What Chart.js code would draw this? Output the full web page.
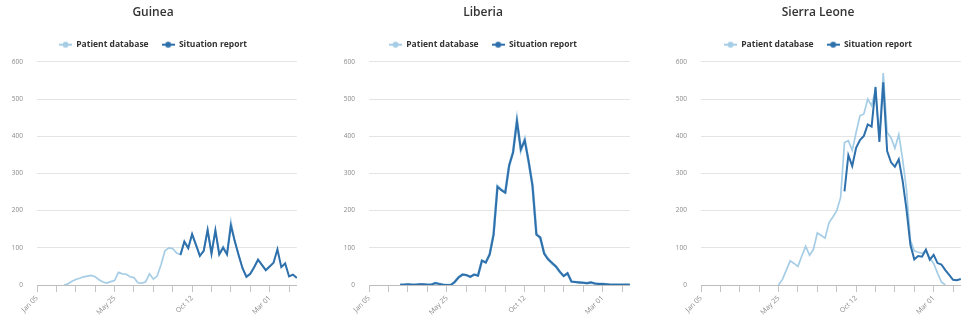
<!DOCTYPE html>
<html>
<head>
<meta charset="utf-8">
<title>Weekly confirmed and probable cases</title>
<script src="https://cdn.jsdelivr.net/npm/chart.js@4.4.1/dist/chart.umd.min.js"></script>
<style>
  html, body { margin: 0; padding: 0; background: #fff; }
  body { width: 965px; height: 324px; position: relative; overflow: hidden; }
  .panel { position: absolute; top: 0; height: 324px; }
  .panel canvas { display: block; }
</style>
</head>
<body>
<div class="panel" id="panel-guinea"><canvas id="chart-guinea"></canvas></div>
<div class="panel" id="panel-liberia"><canvas id="chart-liberia"></canvas></div>
<div class="panel" id="panel-sierra"><canvas id="chart-sierra"></canvas></div>
<script>
// Epidemiological weeks (week starting), 2014-2015
const weeks = [
  'Jan 05','Jan 12','Jan 19','Jan 26','Feb 02','Feb 09','Feb 16','Feb 23','Mar 02','Mar 09',
  'Mar 16','Mar 23','Mar 30','Apr 06','Apr 13','Apr 20','Apr 27','May 04','May 11','May 18',
  'May 25','Jun 01','Jun 08','Jun 15','Jun 22','Jun 29','Jul 06','Jul 13','Jul 20','Jul 27',
  'Aug 03','Aug 10','Aug 17','Aug 24','Aug 31','Sep 07','Sep 14','Sep 21','Sep 28','Oct 05',
  'Oct 12','Oct 19','Oct 26','Nov 02','Nov 09','Nov 16','Nov 23','Nov 30','Dec 07','Dec 14',
  'Dec 21','Dec 28','Jan 04','Jan 11','Jan 18','Jan 25','Feb 01','Feb 08','Feb 15','Feb 22',
  'Mar 01','Mar 08','Mar 15','Mar 22','Mar 29','Apr 05','Apr 12','Apr 19'
];
const labelEvery = 20;   // a date label every 20 weeks
const tickEvery = 5;     // a tick mark every 5 weeks
const yTicks = [0, 100, 200, 300, 400, 500, 600];
const seriesNames = ['Patient database', 'Situation report'];

// Guinea
const guineaPatient = [
  null,null,null,null,null,null,null,0,3,10,
  15,18,22,24,26,22,14,8,5,9,
  12,34,30,29,22,20,6,5,8,30,
  16,24,55,92,100,98,86,82,115,100,
  135,108,80,92,150,86,146,84,104,84,
  172,118,82,46,23,30,48,68,54,40,
  50,null,null,null,null,null,null,null
];
const guineaSituation = [
  null,null,null,null,null,null,null,null,null,null,
  null,null,null,null,null,null,null,null,null,null,
  null,null,null,null,null,null,null,null,null,null,
  null,null,null,null,null,null,null,81,117,99,
  137,108,78,92,148,84,147,82,100,82,
  160,118,80,45,22,30,48,68,54,40,
  50,60,96,48,58,23,28,19
];

// Liberia
const liberiaPatient = [
  null,null,null,null,null,null,null,null,1,1,
  2,1,1,2,2,1,1,5,3,1,
  0,0,8,21,28,26,22,28,26,64,
  61,83,138,266,256,250,320,358,444,362,
  392,330,270,138,126,86,70,58,50,35,
  25,30,10,8,7,6,5,6,4,3,
  3,2,1,1,1,1,1,1
];
const liberiaSituation = [
  null,null,null,null,null,null,null,null,1,1,
  2,1,1,2,2,1,1,5,3,1,
  0,0,8,20,28,27,22,28,25,66,
  60,82,135,264,255,248,322,356,441,365,
  389,333,266,135,128,84,69,60,50,36,
  24,32,9,8,7,6,5,7,4,3,
  3,2,1,1,1,1,1,1
];

// Sierra Leone
const sierraPatient = [
  null,null,null,null,null,null,null,null,null,null,
  null,null,null,null,null,null,null,null,null,null,
  0,15,40,65,58,50,78,104,80,96,
  140,133,126,167,183,200,235,383,388,362,
  410,455,460,500,482,525,395,570,410,396,
  368,405,338,255,120,92,88,85,92,72,
  58,32,8,0,null,null,null,null
];
const sierraSituation = [
  null,null,null,null,null,null,null,null,null,null,
  null,null,null,null,null,null,null,null,null,null,
  null,null,null,null,null,null,null,null,null,null,
  null,null,null,null,null,null,null,252,349,320,
  369,390,401,432,426,532,385,545,360,330,
  318,338,280,203,108,69,78,76,95,68,
  81,59,55,40,27,14,13,16
];

const COLOR_PATIENT = '#a6cde6';
const COLOR_SITREP = '#2e70ab';
const FONT = "'Open Sans', 'DejaVu Sans', sans-serif";

// Legend symbol: short line with a round marker
function legendMarker(color) {
  const c = document.createElement('canvas');
  c.width = 13; c.height = 8;
  const g = c.getContext('2d');
  g.strokeStyle = color; g.lineWidth = 2;
  g.beginPath(); g.moveTo(0, 4); g.lineTo(13, 4); g.stroke();
  g.fillStyle = color;
  g.beginPath(); g.arc(6.5, 4, 3, 0, Math.PI * 2); g.fill();
  return c;
}
const markers = [legendMarker(COLOR_PATIENT), legendMarker(COLOR_SITREP)];

// Panel placement: left edge and width of each chart, width of its value axis
const panels = [
  { canvas: 'chart-guinea',  panel: 'panel-guinea',  left: 9,   width: 288, axisW: 28, title: 'Guinea',       patientW: 1.7, patient: guineaPatient,  sitrep: guineaSituation },
  { canvas: 'chart-liberia', panel: 'panel-liberia', left: 336, width: 294, axisW: 33, title: 'Liberia',      patientW: 2.6, patient: liberiaPatient, sitrep: liberiaSituation },
  { canvas: 'chart-sierra',  panel: 'panel-sierra',  left: 675, width: 286, axisW: 26, title: 'Sierra Leone', patientW: 1.7, patient: sierraPatient,  sitrep: sierraSituation }
];

panels.forEach(p => {
  const holder = document.getElementById(p.panel);
  holder.style.left = p.left + 'px';
  holder.style.width = p.width + 'px';
  const cv = document.getElementById(p.canvas);
  cv.width = p.width; cv.height = 324;
  new Chart(cv.getContext('2d'), {
    type: 'line',
    data: {
      labels: weeks,
      datasets: [
        {
          label: seriesNames[0], data: p.patient, xAxisID: 'x', yAxisID: 'y',
          borderColor: COLOR_PATIENT, backgroundColor: COLOR_PATIENT,
          borderWidth: p.patientW, pointRadius: 0, tension: 0, fill: false, order: 1
        },
        {
          label: seriesNames[1], data: p.sitrep, xAxisID: 'x', yAxisID: 'y',
          borderColor: COLOR_SITREP, backgroundColor: COLOR_SITREP,
          borderWidth: 2, pointRadius: 0, tension: 0, fill: false, order: 0
        }
      ]
    },
    options: {
      responsive: false,
      animation: false,
      devicePixelRatio: 1,
      layout: { padding: 0 },
      plugins: {
        title: {
          display: true, text: p.title, color: '#333333',
          font: { family: FONT, size: 12, weight: '600' },
          padding: { top: 5, bottom: 8 }
        },
        legend: {
          display: true,
          labels: {
            usePointStyle: true, pointStyleWidth: 13, padding: 13,
            color: '#333333',
            font: { family: FONT, size: 8.5, weight: 'bold' },
            sort: (a, b) => a.datasetIndex - b.datasetIndex,
            generateLabels(chart) {
              const items = Chart.defaults.plugins.legend.labels.generateLabels(chart);
              items.forEach(it => { it.pointStyle = markers[it.datasetIndex]; });
              return items;
            }
          }
        },
        tooltip: { enabled: false }
      },
      scales: {
        x: {
          type: 'category',
          grid: { display: true, drawOnChartArea: false, drawTicks: true, tickLength: 7, color: '#c4c4c4' },
          border: { display: true, color: '#bdbdbd' },
          ticks: {
            autoSkip: false, minRotation: 45, maxRotation: 45, padding: 2,
            color: '#8a8a8a', font: { family: FONT, size: 7 },
            callback(value, index) {
              if (index % labelEvery === 0) return this.getLabelForValue(value);
              if (index % tickEvery === 0) return '';
              return null;
            }
          },
          afterFit(scale) { scale.height = 39; }
        },
        spacer: {
          type: 'linear', position: 'top', display: true,
          grid: { display: false }, border: { display: false }, ticks: { display: false },
          afterFit(scale) { scale.height = 3; }
        },
        y: {
          min: yTicks[0], max: yTicks[yTicks.length - 1],
          afterBuildTicks(scale) { scale.ticks = yTicks.map(v => ({ value: v })); },
          ticks: { color: '#8a8a8a', font: { family: FONT, size: 6.5 }, padding: 14 },
          grid: { color: '#e4e4e4', drawTicks: false },
          border: { display: false },
          afterFit(scale) { scale.width = p.axisW; }
        }
      }
    }
  });
});
</script>
</body>
</html>
